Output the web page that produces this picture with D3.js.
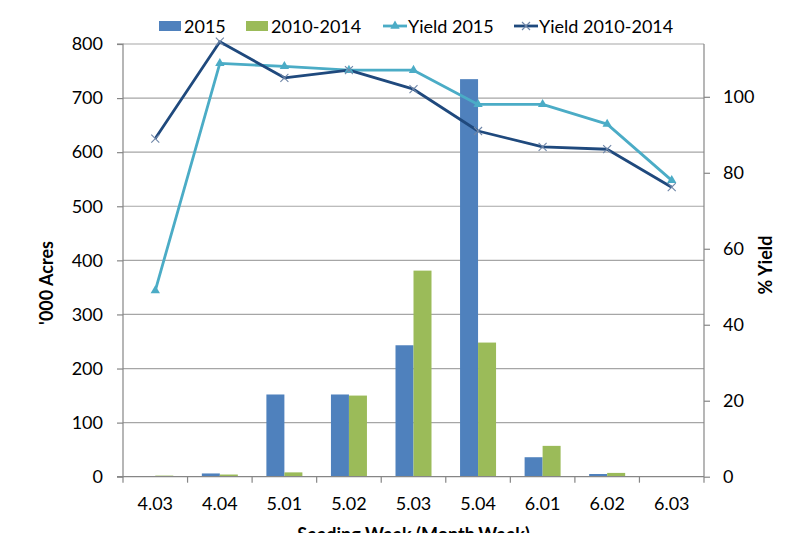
<!DOCTYPE html>
<html>
<head>
<meta charset="utf-8">
<script src="https://cdn.jsdelivr.net/npm/d3@7"></script>
<style>
  body { margin: 0; background: #fff; }
  svg { display: block; }
  text { font-family: Lato, "Open Sans", sans-serif; fill: #000; }
</style>
</head>
<body>
<svg id="chart" width="800" height="533"></svg>
<script>
// ---- Data ----
const categories = ["4.03", "4.04", "5.01", "5.02", "5.03", "5.04", "6.01", "6.02", "6.03"];
const acres2015 = [0, 6, 152, 152, 243, 735, 36, 5, 0];
const acres2010_2014 = [2, 4, 8, 150, 381, 248, 57, 7, 0];
const yield2015 = [49, 108.8, 108, 107, 107, 98, 98, 92.8, 78];
const yield2010_2014 = [89, 114.5, 105, 107, 102, 91, 86.8, 86.2, 76.2];
const leftTicks = [0, 100, 200, 300, 400, 500, 600, 700, 800];
const rightTicks = [0, 20, 40, 60, 80, 100];

const colors = {
  b2015: "#4F81BD",
  b1014: "#9BBB59",
  y2015: "#4BACC6",
  y1014: "#1F497D",
  grid: "#A6A6A6",
  axis: "#868686"
};

const svg = d3.select("#chart");
const plot = { left: 123, right: 704, top: 44, bottom: 476.7 };

const x = d3.scaleBand().domain(categories).range([plot.left, plot.right]).paddingInner(0).paddingOuter(0);
const barW = 18;
const yL = d3.scaleLinear().domain([0, 800]).range([plot.bottom, plot.top]);
const yR = d3.scaleLinear().domain([0, 113.9]).range([plot.bottom, plot.top]);

// Gridlines
svg.append("g").selectAll("line").data(leftTicks.filter(d => d > 0)).join("line")
  .attr("x1", plot.left).attr("x2", plot.right)
  .attr("y1", d => yL(d)).attr("y2", d => yL(d))
  .attr("stroke", colors.grid).attr("stroke-width", 1.2);

// Bars
const gBars = svg.append("g");
categories.forEach((c, i) => {
  const cx = x(c) + x.bandwidth() / 2;
  gBars.append("rect")
    .attr("x", cx - barW).attr("width", barW)
    .attr("y", yL(acres2015[i])).attr("height", plot.bottom - yL(acres2015[i]))
    .attr("fill", colors.b2015);
  gBars.append("rect")
    .attr("x", cx).attr("width", barW)
    .attr("y", yL(acres2010_2014[i])).attr("height", plot.bottom - yL(acres2010_2014[i]))
    .attr("fill", colors.b1014);
});

// Axes
const leftAxis = d3.axisLeft(yL).tickValues(leftTicks).tickSize(6).tickPadding(14);
const gL = svg.append("g").attr("transform", `translate(${plot.left},0)`).call(leftAxis);
const rightAxis = d3.axisRight(yR).tickValues(rightTicks).tickSize(6).tickPadding(13);
const gR = svg.append("g").attr("transform", `translate(${plot.right},0)`).call(rightAxis);
const bottomAxis = d3.axisBottom(x).tickSize(0).tickPadding(21);
const gB = svg.append("g").attr("transform", `translate(0,${plot.bottom})`).call(bottomAxis);
// category boundary ticks
const bounds = categories.map(c => x(c)).concat([plot.right]);
gB.selectAll("line.bnd").data(bounds).join("line").attr("class", "bnd")
  .attr("x1", d => d).attr("x2", d => d).attr("y1", 0).attr("y2", 6)
  .attr("stroke", colors.axis).attr("stroke-width", 1.2);

[gL, gR, gB].forEach(g => {
  g.select(".domain").attr("stroke", colors.axis).attr("stroke-width", 1.2);
  g.selectAll(".tick line").attr("stroke", colors.axis).attr("stroke-width", 1.2);
  g.selectAll(".tick text").style("font-size", "18px").style("font-family", "Lato, sans-serif").attr("fill", "#000");
});
gL.select(".domain").attr("d", `M-6,${plot.bottom}H0V${plot.top}H-6`).attr("fill", "none");
gR.select(".domain").attr("d", `M0,${plot.top}V${plot.bottom}`).attr("fill", "none");
gB.select(".domain").attr("d", `M${plot.left},0H${plot.right}`);

// Lines
const lineGen = (scale) => d3.line()
  .x((d, i) => x(categories[i]) + x.bandwidth() / 2)
  .y(d => scale(d));

svg.append("path").datum(yield2015)
  .attr("d", lineGen(yR)).attr("fill", "none")
  .attr("stroke", colors.y2015).attr("stroke-width", 2.8).attr("stroke-linejoin", "round");
svg.append("path").datum(yield2010_2014)
  .attr("d", lineGen(yR)).attr("fill", "none")
  .attr("stroke", colors.y1014).attr("stroke-width", 2.8).attr("stroke-linejoin", "round");

const tri = d3.symbol().type(d3.symbolTriangle).size(38);
svg.append("g").selectAll("path").data(yield2015).join("path")
  .attr("d", tri)
  .attr("transform", (d, i) => `translate(${x(categories[i]) + x.bandwidth() / 2},${yR(d)})`)
  .attr("fill", colors.y2015);

function xMark(g, cx, cy, s) {
  g.append("path")
    .attr("d", `M${cx - s},${cy - s}L${cx + s},${cy + s}M${cx - s},${cy + s}L${cx + s},${cy - s}`)
    .attr("stroke", "#6F86A8").attr("stroke-width", 1.1).attr("fill", "none");
}
const gX = svg.append("g");
yield2010_2014.forEach((d, i) => xMark(gX, x(categories[i]) + x.bandwidth() / 2, yR(d), 4));

// Axis titles
svg.append("text").attr("transform", `translate(53,283) rotate(-90)`)
  .attr("text-anchor", "middle").style("font-size", "18px").style("font-weight", "bold")
  .text("'000 Acres");
svg.append("text").attr("transform", `translate(772,265) rotate(-90)`)
  .attr("text-anchor", "middle").style("font-size", "18px").style("font-weight", "bold")
  .text("% Yield");
svg.append("text").attr("x", (plot.left + plot.right) / 2).attr("y", 541)
  .attr("text-anchor", "middle").style("font-size", "18px").style("font-weight", "bold")
  .text("Seeding Week (Month.Week)");

// Legend
const legend = svg.append("g").style("font-size", "18px");
const legendItems = [
  { label: "2015", type: "rect", color: colors.b2015, x: 159 },
  { label: "2010-2014", type: "rect", color: colors.b1014, x: 246 },
  { label: "Yield 2015", type: "tri", color: colors.y2015, x: 383 },
  { label: "Yield 2010-2014", type: "x", color: colors.y1014, x: 514 }
];
legendItems.forEach(it => {
  if (it.type === "rect") {
    legend.append("rect").attr("x", it.x).attr("y", 21).attr("width", 22).attr("height", 10).attr("fill", it.color);
  } else {
    legend.append("line").attr("x1", it.x).attr("x2", it.x + 24).attr("y1", 26).attr("y2", 26)
      .attr("stroke", it.color).attr("stroke-width", 2.8);
    if (it.type === "tri") {
      legend.append("path").attr("d", tri).attr("transform", `translate(${it.x + 12},26)`).attr("fill", it.color);
    } else {
      xMark(legend, it.x + 12, 26, 4);
    }
  }
  legend.append("text").attr("x", it.x + 25).attr("y", 33).text(it.label);
});
</script>
</body>
</html>
